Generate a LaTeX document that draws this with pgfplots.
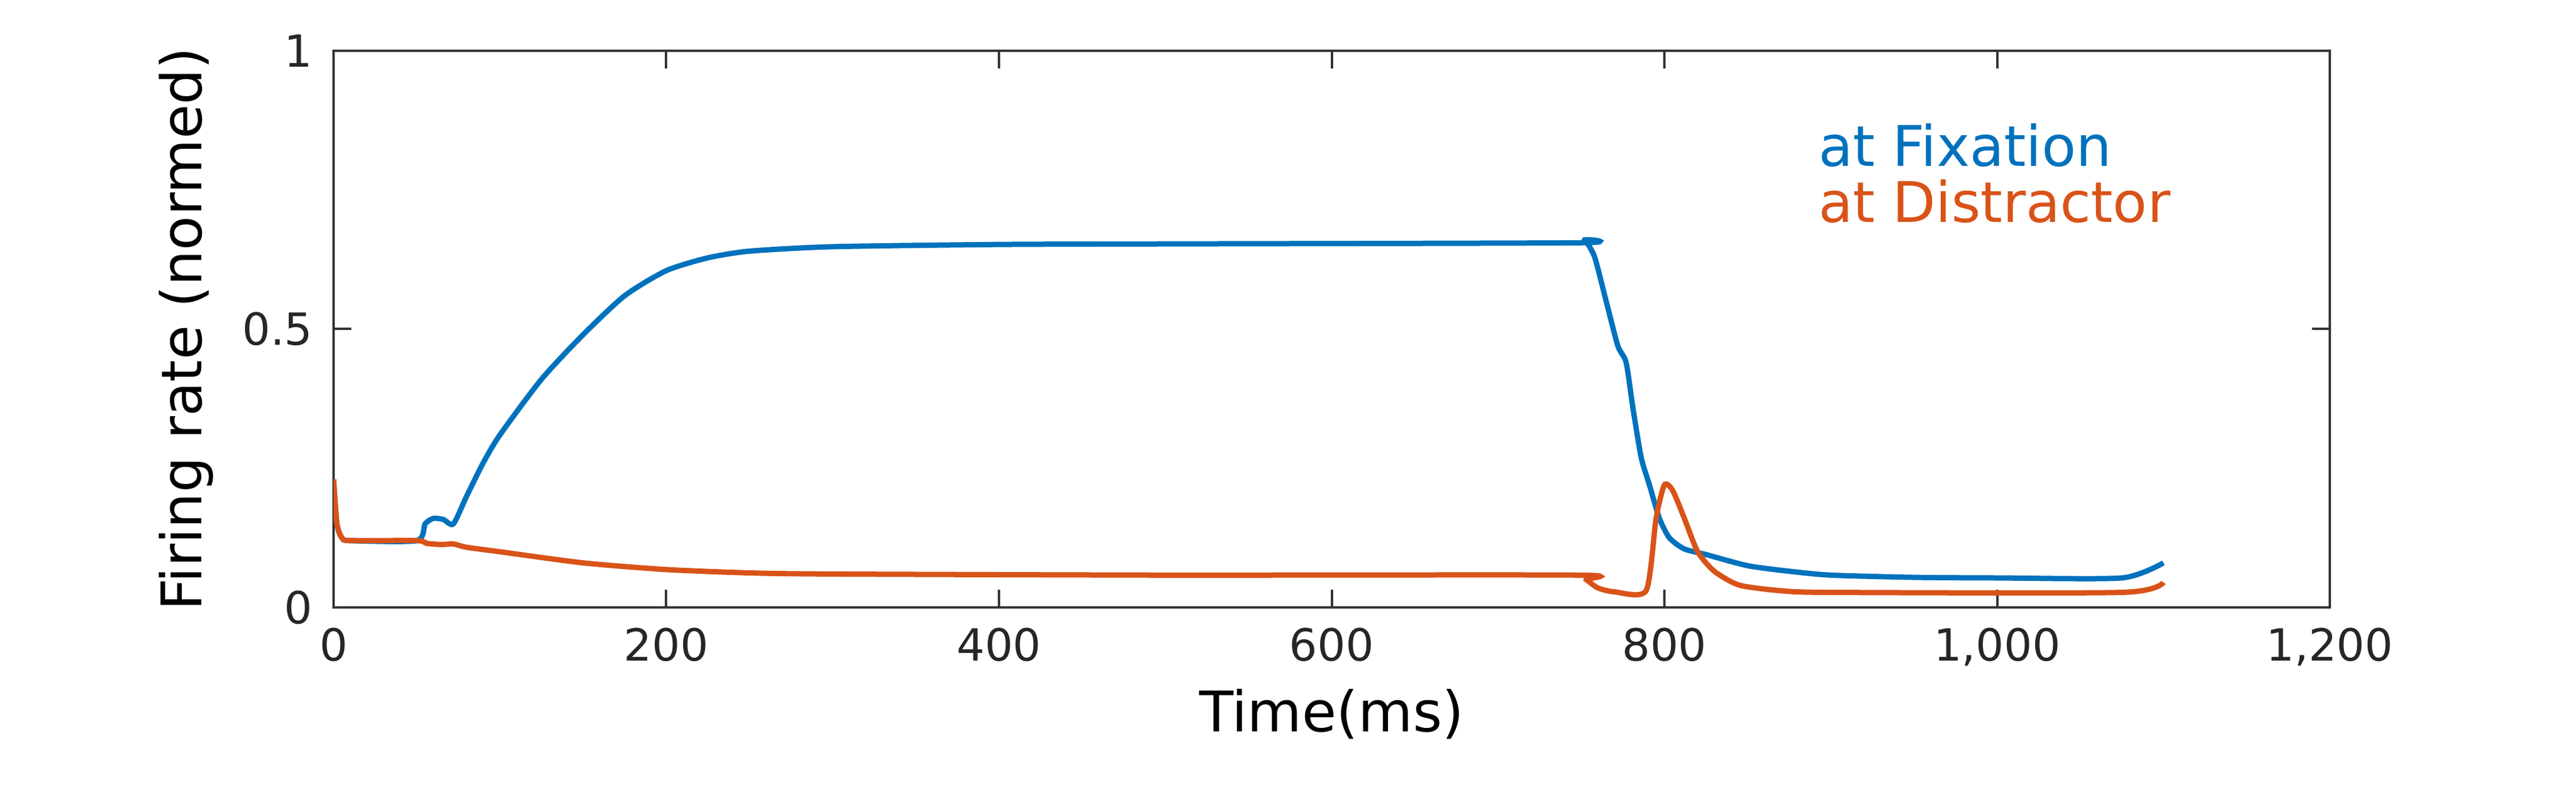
\documentclass[border=0pt]{standalone}
\usepackage{pgfplots}
\pgfplotsset{compat=1.18}
\usepackage{fontspec}
\setmainfont{DejaVu Sans}
\definecolor{mblue}{RGB}{0,114,189}
\definecolor{morange}{RGB}{217,83,25}
\begin{document}
\begin{tikzpicture}
\path (-56.5pt,-33.3pt) rectangle (379.8pt,102.9pt);
\begin{axis}[at={(0,0)},anchor=south west,scale only axis,width=338.1pt,height=94.3pt,
xmin=0,xmax=1200,ymin=0,ymax=1,
xtick={0,200,...,1200},ytick={0,0.5,1},yticklabels={0,0.5,1},
tick align=inside,tick pos=both,major tick length=3pt,
/pgf/number format/assume math mode=true,
ticklabel style={font=\fontsize{7.5}{9}\selectfont,color=black!85},
xlabel={Time(ms)},ylabel={Firing rate (normed)},
label style={font=\fontsize{9.5}{11}\selectfont},
xlabel style={yshift=3pt},ylabel style={yshift=-2pt},
axis line style={black!80,line width=0.4pt},
every tick/.style={black!80},
]
\addplot[mblue,line width=0.9pt,smooth,tension=0.4] coordinates {
(0,0.23)(2,0.15)(5,0.125)(10,0.12)(50,0.12)(55,0.15)(60,0.16)(66,0.158)(72,0.15)(80,0.2)(90,0.26)(100,0.31)(125,0.41)(150,0.49)(175,0.56)(200,0.605)(225,0.628)(250,0.64)(300,0.648)(400,0.652)(500,0.653)(748,0.655)(752,0.66)(758,0.63)(765,0.55)(772,0.47)(777,0.44)(781,0.36)(786,0.27)(791,0.22)(797,0.16)(803,0.125)(812,0.105)(825,0.095)(850,0.075)(875,0.065)(900,0.058)(950,0.054)(1000,0.053)(1075,0.053)(1100,0.08)};
\addplot[morange,line width=0.9pt,smooth,tension=0.4] coordinates {
(0,0.23)(2,0.15)(5,0.125)(10,0.12)(50,0.12)(56,0.115)(65,0.113)(72,0.114)(80,0.108)(100,0.1)(150,0.08)(200,0.068)(250,0.062)(300,0.06)(500,0.058)(748,0.058)(753,0.05)(760,0.035)(770,0.028)(789,0.03)(795,0.16)(800,0.22)(805,0.21)(812,0.16)(820,0.1)(830,0.065)(845,0.04)(870,0.03)(900,0.027)(1075,0.027)(1100,0.045)};
\node[anchor=west,mblue,font=\fontsize{9.5}{11}\selectfont,inner sep=0pt] at (axis cs:892,0.83) {at Fixation};
\node[anchor=west,morange,font=\fontsize{9.5}{11}\selectfont,inner sep=0pt] at (axis cs:892,0.73) {at Distractor};
\end{axis}
\end{tikzpicture}
\end{document}
